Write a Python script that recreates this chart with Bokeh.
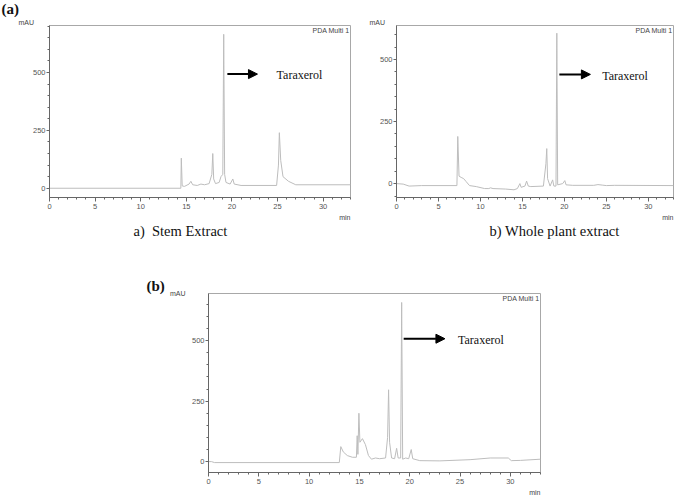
from bokeh.plotting import figure
from bokeh.models import Label, Arrow, NormalHead, FixedTicker, Range1d, Title, LinearAxis
from bokeh.layouts import column, row
from bokeh.embed import file_html
from bokeh.resources import INLINE

# ---------------- data (retention time in min, absorbance in mAU) ----------------
stem_t = [0, 14.4, 14.45, 14.55, 14.8, 15.3, 15.5, 15.7, 16.2, 16.6, 17.0, 17.5, 17.8, 17.9, 18.0,
          18.2, 18.6, 18.8, 19.0, 19.1, 19.2, 19.35, 19.8, 20.1, 20.25, 21.0, 24.9, 25.1, 25.2,
          25.35, 25.6, 26.2, 27.0, 33.0]
stem_mau = [0, 0, 130, 10, 8, 18, 30, 15, 12, 18, 15, 20, 60, 150, 40,
            20, 25, 50, 60, 665, 60, 25, 18, 40, 18, 12, 12, 100, 240,
            120, 50, 30, 15, 15]

whole_t = [0, 0.8, 1.5, 3.0, 7.2, 7.3, 7.45, 7.7, 8.0, 8.3, 8.7, 9.5, 10.5, 11.0, 11.2, 11.5,
           13.0, 14.0, 14.4, 14.7, 14.85, 15.3, 15.5, 15.7, 16.0, 17.5, 17.8, 17.9, 18.0, 18.3,
           18.6, 18.75, 19.0, 19.1, 19.2, 19.8, 20.05, 20.2, 21.0, 23.5, 24.0, 24.5, 25.0, 26.0, 33.0]
whole_mau = [0, -2, -10, -8, -8, 190, 30, 25, 20, 8, -8, -12, -20, -20, -17, -20,
             -22, -25, -20, 0, -15, -10, 10, -10, -12, -10, 80, 141, 20, -10,
             15, -10, -10, 606, -5, 0, 12, -5, -7, -7, -4, -6, -8, -7, -8]

b_t = [0, 0.3, 0.6, 13.0, 13.15, 13.4, 13.8, 14.3, 14.7, 14.78, 14.85, 14.95, 15.05, 15.3, 15.6,
       15.9, 16.2, 16.6, 17.0, 17.6, 17.8, 17.9, 18.0, 18.2, 18.5, 18.7, 18.85, 19.1, 19.2, 19.3,
       19.6, 19.9, 20.15, 20.3, 21.0, 23.0, 26.0, 28.0, 29.8, 30.1, 31.0, 33.0]
b_mau = [0, 0, -4, -4, 62, 40, 25, 18, 18, 107, 30, 200, 80, 95, 70,
         25, 10, 15, 12, 15, 100, 297, 80, 15, 12, 55, 15, 15, 658, 10,
         15, 12, 50, 12, 4, 3, 8, 15, 15, 4, 5, 10]

x_ticks = [0, 5, 10, 15, 20, 25, 30]
x_minor = list(range(0, 34))
y_ticks = [0, 250, 500]
y_minor = list(range(-50, 701, 50))

TRACE = "#bdbdbd"
AXIS = "#666666"
SANS = "Liberation Sans"
SERIF = "Liberation Serif"


def panel(t, y, ylo, yhi, width, height, bl, br, bt, bb):
    p = figure(width=width, height=height, x_range=Range1d(0, 33), y_range=Range1d(ylo, yhi),
               output_backend="svg", toolbar_location=None,
               min_border_left=bl, min_border_right=br, min_border_top=bt, min_border_bottom=bb)
    p.line(t, y, line_color=TRACE, line_width=1)
    p.xgrid.visible = False
    p.ygrid.visible = False
    p.outline_line_color = "#a8a8a8"
    p.background_fill_color = "white"
    p.border_fill_color = "white"
    for ax in (p.xaxis[0], p.yaxis[0]):
        ax.axis_line_color = AXIS
        ax.major_tick_line_color = AXIS
        ax.minor_tick_line_color = AXIS
        ax.major_tick_in = 0
        ax.minor_tick_in = 0
        ax.major_label_text_font = SANS
        ax.major_label_text_font_size = "7.5px"
        ax.major_label_text_color = "#555555"
    p.xaxis.ticker = FixedTicker(ticks=x_ticks, minor_ticks=x_minor)
    p.yaxis.ticker = FixedTicker(ticks=y_ticks, minor_ticks=y_minor)
    p.xaxis.major_tick_out = 4
    p.xaxis.minor_tick_out = 2
    p.xaxis.major_label_standoff = 2
    p.yaxis.major_tick_out = 3
    p.yaxis.minor_tick_out = 2
    p.yaxis.major_label_standoff = 1
    return p


def side_title(p, text, place, align, offset, font, size, standoff=0, bold=False,
               color="#444444", valign="bottom"):
    p.add_layout(Title(text=text, align=align, offset=offset, standoff=standoff,
                       vertical_align=valign,
                       text_font=font, text_font_size=size, text_color=color,
                       text_font_style="bold" if bold else "normal"), place)


def taraxerol(p, x0, x1, y, tx, ty):
    p.add_layout(Arrow(x_start=x0, y_start=y, x_end=x1, y_end=y, line_width=2, line_color="black",
                       end=NormalHead(size=9, fill_color="black", line_color="black")))
    p.add_layout(Label(x=tx, y=ty, text="Taraxerol", text_font=SERIF, text_font_size="12px",
                       text_color="#111111", text_baseline="middle"))


def pda_label(p, width_px):
    p.add_layout(Label(x=width_px, y=p.y_range.end, x_units="screen", y_units="data",
                       text="PDA Multi 1", text_font=SANS, text_font_size="7px",
                       text_color="#444444", text_align="right", text_baseline="top",
                       y_offset=-1))


# ---------- panel a) stem ----------
p1 = panel(stem_t, stem_mau, -40, 703, 360, 258, 49, 10, 24, 61)
side_title(p1, "mAU", "above", "left", -31, SANS, "7px")
side_title(p1, "(a)", "above", "left", -48, SERIF, "15px", standoff=-5, bold=True,
           color="#111111", valign="top")
side_title(p1, "min", "below", "right", 0, SANS, "7px")
side_title(p1, "a)\u00a0 Stem Extract", "below", "left", 84, SERIF, "14.5px", color="#111111")
pda_label(p1, 300)
taraxerol(p1, 19.5, 22.8, 493, 24.9, 488)

# ---------- panel b) whole plant ----------
p2 = panel(whole_t, whole_mau, -56, 637, 317, 258, 36, 4, 25, 61)
side_title(p2, "mAU", "above", "left", -27, SANS, "7px")
side_title(p2, "min", "below", "right", 0, SANS, "7px")
side_title(p2, "b) Whole plant extract", "below", "left", 93, SERIF, "14.5px", color="#111111")
pda_label(p2, 276)
taraxerol(p2, 19.4, 23.1, 440, 24.5, 432)

# ---------- (b) ----------
p3 = panel(b_t, b_mau, -45, 695, 550, 242, 208, 10, 35, 28)
side_title(p3, "(b)", "above", "left", -62, SERIF, "15px", bold=True, color="#111111")
side_title(p3, "min", "below", "right", 0, SANS, "7px")
unit_axis = LinearAxis(ticker=FixedTicker(ticks=[694]), major_label_overrides={694: "mAU"},
                       axis_line_color=None, major_tick_line_color=None,
                       minor_tick_line_color=None, major_label_standoff=-3,
                       major_label_text_font=SANS, major_label_text_font_size="7px",
                       major_label_text_color="#444444")
p3.add_layout(unit_axis, "left")
pda_label(p3, 331)
taraxerol(p3, 19.4, 23.5, 508, 24.8, 503)

layout = column(row(p1, p2), p3)
open("out.html", "w").write(file_html(layout, INLINE))
